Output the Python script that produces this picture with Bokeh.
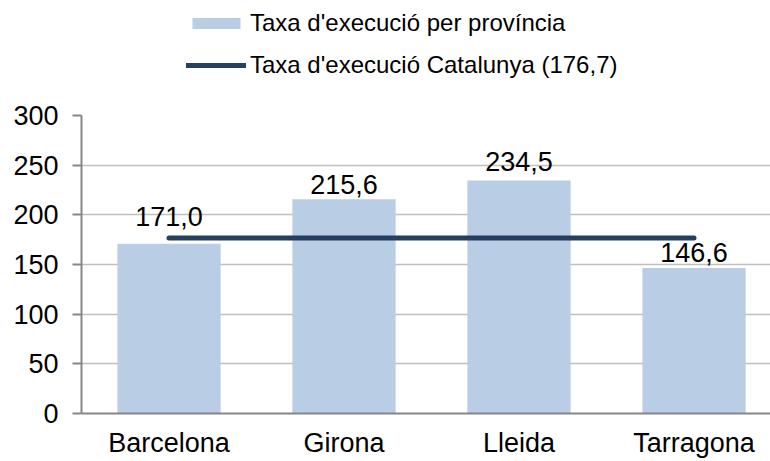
from bokeh.plotting import figure
from bokeh.layouts import column
from bokeh.models import Range1d, FixedTicker, Legend, LegendItem, ColumnDataSource
from bokeh.core.properties import value
from bokeh.embed import file_html
from bokeh.resources import INLINE

categories = ["Barcelona", "Girona", "Lleida", "Tarragona"]
rates = [171.0, 215.6, 234.5, 146.6]
catalunya = 176.7
y_ticks = [0, 50, 100, 150, 200, 250, 300]
bar_label = "Taxa d'execució per província"
line_label = "Taxa d'execució Catalunya (176,7)"

FONT = "Liberation Sans"
BAR_COLOR = "#B9CDE5"
LINE_COLOR = "#243F60"

centers = [i + 0.5 for i in range(len(categories))]
labels = [f"{v:.1f}".replace(".", ",") for v in rates]
label_dy = [-18, -5, -10, -6]

src = ColumnDataSource(dict(x=centers, top=rates, lab=labels, dy=label_dy))

# ---- legend strip (top) ----
LEG_H = 95
lp = figure(width=770, height=LEG_H, output_backend="svg", toolbar_location=None,
            x_axis_type=None, y_axis_type=None, x_range=Range1d(0, 1), y_range=Range1d(0, 1),
            min_border_left=0, min_border_right=0, min_border_top=0, min_border_bottom=0)
lp.outline_line_color = None
lp.grid.grid_line_color = None
# legend key glyphs (kept outside the visible range of this strip)
lbar = lp.vbar(x=[5], top=[1], width=0.5, fill_color=BAR_COLOR, line_color=None)
lline = lp.line(x=[5, 6], y=[5, 5], line_color=LINE_COLOR, line_width=5, line_cap="round")
legend = Legend(items=[LegendItem(label=bar_label, renderers=[lbar]),
                       LegendItem(label=line_label, renderers=[lline])],
                location=(105, LEG_H - 80), orientation="vertical",
                glyph_width=60, glyph_height=14, label_height=30, spacing=12,
                label_standoff=4, padding=8, margin=0,
                label_text_font=FONT, label_text_font_size="24px", label_text_color="black",
                border_line_color=None, background_fill_alpha=0)
lp.add_layout(legend, "center")

# ---- main chart ----
p = figure(width=770, height=461 - LEG_H, output_backend="svg", toolbar_location=None,
           x_range=Range1d(0, 3.937), y_range=Range1d(0, 300),
           min_border_left=81, min_border_right=0, min_border_top=115 - LEG_H,
           min_border_bottom=48)
p.outline_line_color = None
p.background_fill_color = "white"
p.border_fill_color = "white"

p.vbar(x="x", top="top", width=0.59, source=src, fill_color=BAR_COLOR, line_color=None)
p.line(x=centers, y=[catalunya] * len(categories), line_color=LINE_COLOR,
       line_width=5, line_cap="round")

p.text(x="x", y="top", text="lab", source=src, y_offset="dy", text_align="center",
       text_baseline="bottom", text_font=value(FONT), text_font_size="27px", text_color="black")

# x axis
p.xaxis.ticker = FixedTicker(ticks=centers, minor_ticks=list(range(len(categories) + 1)))
p.xaxis.major_label_overrides = {c: n for c, n in zip(centers, categories)}
p.xaxis.major_tick_out = 0
p.xaxis.major_tick_in = 0
p.xaxis.minor_tick_out = 7
p.xaxis.minor_tick_in = 0
p.xaxis.major_label_standoff = 7
# y axis
p.yaxis.ticker = FixedTicker(ticks=y_ticks)
p.yaxis.major_tick_out = 9
p.yaxis.major_tick_in = 0
p.yaxis.major_label_standoff = 14

for ax in (p.xaxis, p.yaxis):
    ax.axis_line_color = "#868686"
    ax.axis_line_width = 2
    ax.major_tick_line_color = "#868686"
    ax.major_tick_line_width = 2
    ax.minor_tick_line_color = "#868686" if ax is p.xaxis else None
    ax.minor_tick_line_width = 2
    ax.major_label_text_font = FONT
    ax.major_label_text_font_size = "27px"
    ax.major_label_text_color = "black"

p.xgrid.grid_line_color = None
p.ygrid.ticker = FixedTicker(ticks=y_ticks)
p.ygrid.grid_line_color = "#BFBFBF"
p.ygrid.grid_line_width = 1.5

layout = column(lp, p, spacing=0)
open("out.html", "w").write(file_html(layout, INLINE))
